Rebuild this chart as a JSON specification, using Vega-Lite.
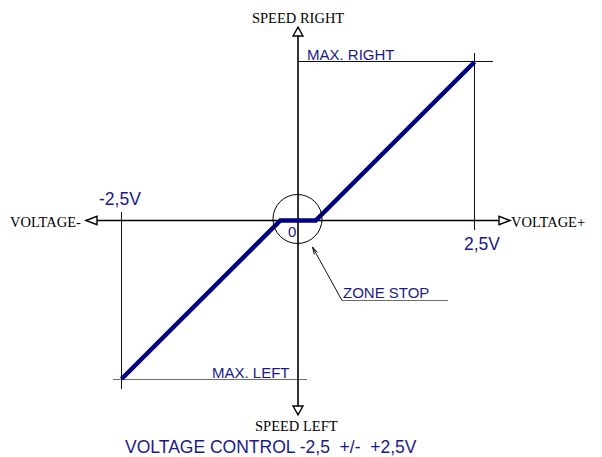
{
  "$schema": "https://vega.github.io/schema/vega-lite/v6.json",
  "width": 602,
  "height": 457,
  "autosize": {"type": "fit", "contains": "padding"},
  "padding": 0,
  "background": "white",
  "config": {"view": {"stroke": null}},
  "datasets": {
    "axes": [
      {"v": -2.847, "s": 0, "v2": 2.847, "s2": 0},
      {"v": 0, "s": 1.164, "v2": 0, "s2": -1.17}
    ],
    "guides": [
      {"v": 0, "s": 1.00315, "v2": 2.762, "s2": 1.00315},
      {"v": 2.5, "s": 1.057, "v2": 2.5, "s2": -0.06},
      {"v": -2.5, "s": 0.054, "v2": -2.5, "s2": -1.063},
      {"v": 0.623, "s": -0.5047, "v2": 0.205, "s2": -0.167},
      {"v": 0.231, "s": -0.2145, "v2": 0.205, "s2": -0.167},
      {"v": 0.2748, "s": -0.2013, "v2": 0.205, "s2": -0.167}
    ],
    "grayGuides": [
      {"v": -2.62, "s": -1.00315, "v2": 0.127, "s2": -1.00315},
      {"v": 0.623, "s": -0.5047, "v2": 2.125, "s2": -0.5047}
    ],
    "curve": [
      {"v": -2.5, "s": -1},
      {"v": -0.25, "s": 0},
      {"v": 0.25, "s": 0},
      {"v": 2.5, "s": 1}
    ],
    "zone": [{"v": -0.007, "s": 0.0095}],
    "arrows": [
      {"v": -2.925, "s": 0, "dir": "left"},
      {"v": 2.925, "s": 0, "dir": "right"},
      {"v": 0, "s": 1.1918, "dir": "up"},
      {"v": 0, "s": -1.1981, "dir": "down"}
    ],
    "serifLabels": [
      {"v": -0.652, "s": 1.246, "label": "SPEED RIGHT"},
      {"v": -0.609, "s": -1.328, "label": "SPEED LEFT"},
      {"v": -4.079, "s": -0.038, "label": "VOLTAGE-"},
      {"v": 3.017, "s": -0.038, "label": "VOLTAGE+"}
    ],
    "smallLabels": [
      {"v": 0.127, "s": 1.013, "label": "MAX. RIGHT"},
      {"v": -1.218, "s": -0.994, "label": "MAX. LEFT"},
      {"v": -0.142, "s": -0.104, "label": "0"},
      {"v": 0.637, "s": -0.489, "label": "ZONE STOP"}
    ],
    "bigLabels": [
      {"v": -2.819, "s": 0.098, "label": "-2,5V"},
      {"v": 2.351, "s": -0.186, "label": "2,5V"},
      {"v": -2.45, "s": -1.464, "label": "VOLTAGE CONTROL -2,5\u00a0 +/-\u00a0 +2,5V"}
    ]
  },
  "encoding": {
    "x": {"field": "v", "type": "quantitative", "scale": {"domain": [-4.221, 4.3059], "nice": false, "zero": false}, "axis": null},
    "y": {"field": "s", "type": "quantitative", "scale": {"domain": [-1.4921, 1.3912], "nice": false, "zero": false}, "axis": null}
  },
  "layer": [
    {
      "data": {"name": "grayGuides"},
      "mark": {"type": "rule", "color": "#6e6e6e", "strokeWidth": 1.2},
      "encoding": {"x2": {"field": "v2"}, "y2": {"field": "s2"}}
    },
    {
      "data": {"name": "guides"},
      "mark": {"type": "rule", "color": "#111111", "strokeWidth": 1},
      "encoding": {"x2": {"field": "v2"}, "y2": {"field": "s2"}}
    },
    {
      "data": {"name": "axes"},
      "mark": {"type": "rule", "color": "black", "strokeWidth": 1.6},
      "encoding": {"x2": {"field": "v2"}, "y2": {"field": "s2"}}
    },
    {
      "data": {"name": "curve"},
      "mark": {"type": "line", "color": "#000080", "strokeWidth": 4.5, "strokeCap": "butt", "strokeJoin": "miter"},
      "encoding": {"order": {"field": "v", "type": "quantitative"}}
    },
    {
      "data": {"name": "zone"},
      "mark": {"type": "point", "shape": "circle", "size": 2401, "filled": false, "stroke": "black", "strokeWidth": 1, "opacity": 1}
    },
    {
      "data": {"name": "arrows"},
      "mark": {"type": "point", "size": 121, "filled": true, "fill": "white", "stroke": "black", "strokeWidth": 1.4, "opacity": 1},
      "encoding": {
        "shape": {
          "field": "dir",
          "type": "nominal",
          "scale": {
            "domain": ["left", "right", "up", "down"],
            "range": ["M-1,0L1,-0.75L1,0.75Z", "M1,0L-1,-0.75L-1,0.75Z", "M0,-0.8L0.9,0.8L-0.9,0.8Z", "M0,0.8L0.9,-0.8L-0.9,-0.8Z"]
          },
          "legend": null
        }
      }
    },
    {
      "data": {"name": "serifLabels"},
      "mark": {"type": "text", "font": "Liberation Serif", "fontSize": 14.5, "color": "black", "align": "left", "baseline": "alphabetic"},
      "encoding": {"text": {"field": "label"}}
    },
    {
      "data": {"name": "smallLabels"},
      "mark": {"type": "text", "font": "Liberation Sans", "fontSize": 15, "color": "#1a1a8a", "align": "left", "baseline": "alphabetic"},
      "encoding": {"text": {"field": "label"}}
    },
    {
      "data": {"name": "bigLabels"},
      "mark": {"type": "text", "font": "Liberation Sans", "fontSize": 17.5, "color": "#1a1a8a", "align": "left", "baseline": "alphabetic"},
      "encoding": {"text": {"field": "label"}}
    }
  ]
}
